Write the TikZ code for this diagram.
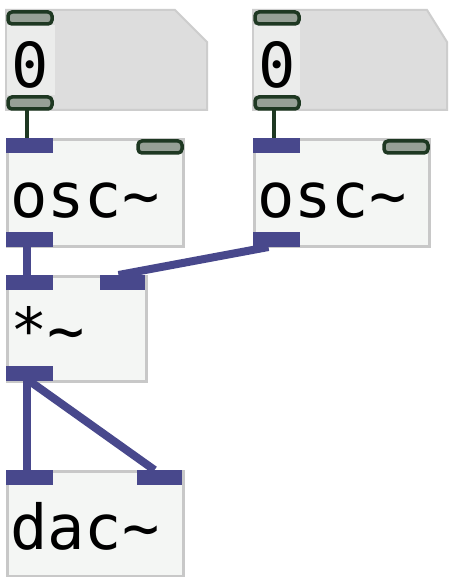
\documentclass[tikz,border=0pt]{standalone}
\usepackage{fontspec}
\setmonofont{DejaVu Sans Mono}
\definecolor{sigblue}{RGB}{72,72,140}
\definecolor{ctlgreen}{RGB}{30,56,34}
\definecolor{ctlfill}{RGB}{150,160,150}
\definecolor{boxline}{RGB}{200,200,200}
\definecolor{boxfill}{RGB}{244,246,244}
\definecolor{numfill}{RGB}{221,221,221}
\definecolor{numline}{RGB}{205,205,205}
\begin{document}
\begin{tikzpicture}[x=1pt,y=-1pt,
  obj/.style={draw=boxline, line width=3pt, fill=boxfill, anchor=north west, inner sep=0pt},
  sig/.style={fill=sigblue, draw=none, anchor=north west, minimum width=47pt, minimum height=15pt, inner sep=0pt, outer sep=0pt},
  ctl/.style={draw=ctlgreen, line width=3.5pt, fill=ctlfill, rounded corners=4pt, anchor=north west, minimum width=44pt, minimum height=12pt, inner sep=0pt, outer sep=0pt},
  sigwire/.style={draw=sigblue, line width=8pt},
  ctlwire/.style={draw=ctlgreen, line width=4pt},
  lbl/.style={font=\ttfamily\fontsize{62}{62}\selectfont, anchor=base west, inner sep=0pt}]
\useasboundingbox (0,0) rectangle (452,577);
\fill[white] (0,0) rectangle (452,577);
% number boxes
\filldraw[fill=numfill, draw=numline, line width=2pt] (6,10) -- (175,10) -- (207,42) -- (207,110) -- (6,110) -- cycle;
\filldraw[fill=numfill, draw=numline, line width=2pt] (253,10) -- (427,10) -- (447,42) -- (447,110) -- (253,110) -- cycle;
\fill[boxfill!60!numfill] (7,25) rectangle (55,95);
\fill[boxfill!60!numfill] (254,25) rectangle (300,95);
\node[lbl] (num1) at (11,88) {0};
\node[lbl] (num2) at (258,88) {0};
\node[ctl] (n1in) at (8,12) {};
\node[ctl] (n1out) at (8,97) {};
\node[ctl] (n2in) at (255,12) {};
\node[ctl] (n2out) at (255,97) {};
% osc~ boxes
\node[obj, minimum width=176pt, minimum height=107pt] (osc1) at (6,138) {};
\node[obj, minimum width=175pt, minimum height=107pt] (osc2) at (253,138) {};
\node[lbl] (osc1t) at (10,217) {osc\char`\~};
\node[lbl] (osc2t) at (257,217) {osc\char`\~};
\node[sig] (osc1inL) at (6,138) {};
\node[ctl] (osc1inR) at (138,141) {};
\node[sig] (osc1out) at (6,232) {};
\node[sig] (osc2inL) at (253,138) {};
\node[ctl] (osc2inR) at (384,141) {};
\node[sig] (osc2out) at (253,232) {};
% *~ box
\node[obj, minimum width=139pt, minimum height=105pt] (mul) at (6,275) {};
\node[lbl] (mult) at (10,352) {*\char`\~};
\node[sig] (mulinL) at (6,275) {};
\node[sig, minimum width=45pt] (mulinR) at (100,275) {};
\node[sig] (mulout) at (6,366) {};
% dac~ box
\node[obj, minimum width=176pt, minimum height=105pt] (dac) at (6,470) {};
\node[lbl] (dact) at (10,549) {dac\char`\~};
\node[sig] (dacinL) at (6,470) {};
\node[sig, minimum width=45pt] (dacinR) at (137,470) {};
% wires
\draw[ctlwire] ([xshift=-3pt]n1out.south) -- ([xshift=-3pt]n1out.south |- osc1inL.north);
\draw[ctlwire] ([xshift=-3pt]n2out.south) -- ([xshift=-3pt]n2out.south |- osc2inL.north);
\draw[sigwire] ([xshift=-3pt]osc1out.south) -- ([xshift=-3pt]mulinL.north);
\draw[sigwire] ([xshift=-8pt]osc2out.south) -- ([xshift=-4pt]mulinR.north);
\draw[sigwire] ([xshift=-3pt]mulout.south) -- ([xshift=-3pt]dacinL.north);
\draw[sigwire] (mulout.south) -- ([xshift=-5pt]dacinR.north);
\end{tikzpicture}
\end{document}
